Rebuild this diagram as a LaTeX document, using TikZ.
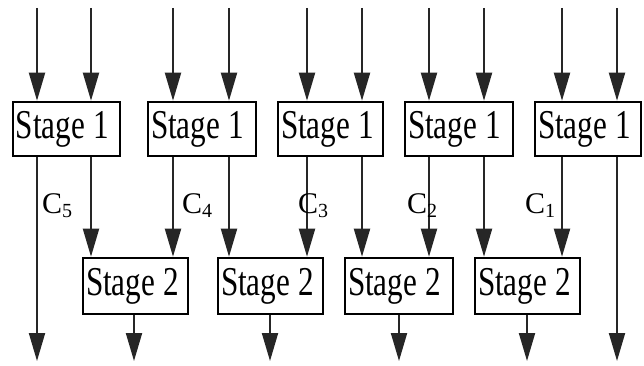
\documentclass[tikz,border=0pt]{standalone}
\usepackage{fontspec}
\setmainfont{Liberation Serif}
\usetikzlibrary{arrows.meta}
\begin{document}
\begin{tikzpicture}[x=1pt,y=-1pt,
  stagebox/.style={draw=black,line width=2.6pt,minimum height=54pt,inner xsep=3pt,inner ysep=0pt,
    font=\fontsize{41}{41}\selectfont,anchor=center},
  arr/.style={line width=2pt,draw=black!85,-{Triangle[length=28pt,width=16pt]}},
  lbl/.style={font=\fontsize{30}{30}\selectfont,inner sep=0pt}]
\useasboundingbox (0,0) rectangle (644,366);
\newcommand{\stxt}[2]{\makebox[#1pt][l]{\scalebox{0.76}[1]{#2}}}
\newcommand{\csub}[1]{C\raisebox{-4pt}{\fontsize{20}{20}\selectfont #1}}
% Stage 1 boxes
\node[stagebox] (s1a) at (66.5,129) {\stxt{101}{Stage 1}};
\node[stagebox] (s1b) at (202,129) {\stxt{102}{Stage 1}};
\node[stagebox] (s1c) at (330.5,129) {\stxt{99}{Stage 1}};
\node[stagebox] (s1d) at (459,129) {\stxt{102}{Stage 1}};
\node[stagebox] (s1e) at (588,129) {\stxt{100}{Stage 1}};
% Stage 2 boxes
\node[stagebox,minimum height=56pt] (s2a) at (135.5,286) {\stxt{99}{Stage 2}};
\node[stagebox,minimum height=56pt] (s2b) at (270.5,286) {\stxt{99}{Stage 2}};
\node[stagebox,minimum height=56pt] (s2c) at (399,286) {\stxt{102}{Stage 2}};
\node[stagebox,minimum height=56pt] (s2d) at (527.5,286) {\stxt{99}{Stage 2}};
% line positions
\coordinate (x1) at (37,8);  \coordinate (x2) at (91,8);
\coordinate (x3) at (173,8); \coordinate (x4) at (229,8);
\coordinate (x5) at (307,8); \coordinate (x6) at (362,8);
\coordinate (x7) at (429,8); \coordinate (x8) at (484,8);
\coordinate (x9) at (562,8); \coordinate (x10) at (617,8);
\coordinate (bot) at (0,361);
% inputs
\draw[arr] (x1) -- (x1 |- s1a.north);
\draw[arr] (x2) -- (x2 |- s1a.north);
\draw[arr] (x3) -- (x3 |- s1b.north);
\draw[arr] (x4) -- (x4 |- s1b.north);
\draw[arr] (x5) -- (x5 |- s1c.north);
\draw[arr] (x6) -- (x6 |- s1c.north);
\draw[arr] (x7) -- (x7 |- s1d.north);
\draw[arr] (x8) -- (x8 |- s1d.north);
\draw[arr] (x9) -- (x9 |- s1e.north);
\draw[arr] (x10) -- (x10 |- s1e.north);
% stage1 -> stage2
\draw[arr] (x1 |- s1a.south) -- (x1 |- bot);
\draw[arr] (x2 |- s1a.south) -- (x2 |- s2a.north);
\draw[arr] (x3 |- s1b.south) -- (x3 |- s2a.north);
\draw[arr] (x4 |- s1b.south) -- (x4 |- s2b.north);
\draw[arr] (x5 |- s1c.south) -- (x5 |- s2b.north);
\draw[arr] (x6 |- s1c.south) -- (x6 |- s2c.north);
\draw[arr] (x7 |- s1d.south) -- (x7 |- s2c.north);
\draw[arr] (x8 |- s1d.south) -- (x8 |- s2d.north);
\draw[arr] (x9 |- s1e.south) -- (x9 |- s2d.north);
\draw[arr] (x10 |- s1e.south) -- (x10 |- bot);
% stage2 outputs
\draw[arr] (s2a.south -| 134,0) coordinate (oa) -- (oa |- bot);
\draw[arr] (s2b.south -| 270,0) coordinate (ob) -- (ob |- bot);
\draw[arr] (s2c.south -| 399,0) coordinate (oc) -- (oc |- bot);
\draw[arr] (s2d.south -| 527,0) coordinate (od) -- (od |- bot);
% labels
\node[lbl,anchor=base west] (c5) at (42,213) {\csub{5}};
\node[lbl,anchor=base west] (c4) at (182,213) {\csub{4}};
\node[lbl,anchor=base west] (c3) at (298,213) {\csub{3}};
\node[lbl,anchor=base west] (c2) at (407,213) {\csub{2}};
\node[lbl,anchor=base west] (c1) at (525,213) {\csub{1}};
\end{tikzpicture}
\end{document}
